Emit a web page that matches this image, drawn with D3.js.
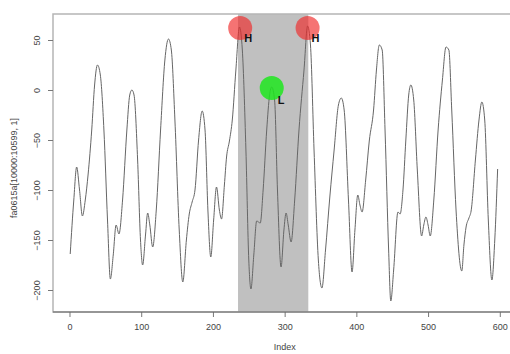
<!DOCTYPE html>
<html>
<head>
<meta charset="utf-8">
<script src="https://cdn.jsdelivr.net/npm/d3@7"></script>
<style>
  body { margin: 0; background: #fff; }
  text { font-family: "Liberation Sans", Arial, sans-serif; }
</style>
</head>
<body>
<svg id="chart"></svg>
<script>
const width = 510;
const height = 354;

// keypoints of the series (index, value)
const idx = [1, 6, 10, 14, 18, 22, 26, 31, 35, 39, 43, 48, 53, 57, 61, 65, 69, 74, 80, 84, 87,
  90, 95, 99, 102, 106, 109, 112, 116, 121, 127, 133, 138, 142, 147, 153, 158, 163, 167, 171, 175,
  180, 185, 189, 193, 197, 201, 205, 209, 212, 216, 219, 223, 227, 232, 237, 241, 246, 250, 253, 257,
  261, 266, 270, 275, 279, 282, 286, 290, 295, 299, 302, 305, 309, 314, 320, 327, 332, 336, 341, 347,
  352, 357, 363, 369, 375, 379, 383, 389, 394, 398, 402, 405, 408, 413, 418, 424, 428, 432, 436,
  440, 445, 448, 452, 458, 461, 465, 469, 473, 476, 480, 485, 491, 494, 497, 500, 503, 508, 514, 520,
  525, 529, 533, 539, 547, 550, 553, 557, 560, 566, 571, 575, 579, 584, 589, 593, 597];
const vals = [-164, -110, -77, -100, -126, -110, -84, -40, 5, 25, 15, -40, -130, -189, -165, -135, -144, -110, -40, -5, 0,
  -5, -70, -150, -175, -145, -123, -135, -157, -120, -40, 30, 51, 40, -30, -140, -192, -150, -124, -112, -100,
  -50, -21, -40, -120, -167, -130, -97, -120, -129, -95, -67, -51, -30, 20, 63, 40, -60, -170, -199, -165,
  -131, -133, -100, -40, -5, 3, -10, -100, -177, -140, -123, -135, -152, -110, -40, 20, 64, 45, -60, -170,
  -198, -160, -107, -60, -15, -8, -20, -110, -182, -140, -105, -115, -122, -90, -51, -20, 20, 45, 40,
  -40, -160, -211, -180, -122, -124, -100, -50, -5, 5, -10, -80, -146, -135, -127, -135, -146, -110, -40, 10,
  43, 40, -20, -120, -181, -155, -137, -128, -121, -70, -30, -12, -30, -130, -190, -150, -79];

// highlighted window and marked points
const windowRange = [235, 333];
const highIdx = [238, 332];
const highVal = [62, 62];
const lowIdx = [282];
const lowVal = [2];

const xTicks = [0, 100, 200, 300, 400, 500, 600];
const yTicks = [-200, -150, -100, -50, 0, 50];

const box = { left: 53, right: 517, top: 14, bottom: 312 };

const svg = d3.select('#chart')
  .attr('width', width)
  .attr('height', height);

const x = d3.scaleLinear().domain([-23, 624]).range([box.left, box.right]);
const y = d3.scaleLinear().domain([-222, 76]).range([box.bottom, box.top]);

// shaded window
svg.append('rect')
  .attr('x', x(windowRange[0]))
  .attr('y', box.top)
  .attr('width', x(windowRange[1]) - x(windowRange[0]))
  .attr('height', box.bottom - box.top)
  .attr('fill', '#c0c0c0');

// series
const points = idx.map((d, i) => [d, vals[i]]);
svg.append('path')
  .datum(points)
  .attr('d', d3.line().x(d => x(d[0])).y(d => y(d[1])).curve(d3.curveMonotoneX))
  .attr('fill', 'none')
  .attr('stroke', '#666')
  .attr('stroke-width', 1);

// plot box
svg.append('rect')
  .attr('x', box.left)
  .attr('y', box.top)
  .attr('width', box.right - box.left)
  .attr('height', box.bottom - box.top)
  .attr('fill', 'none')
  .attr('stroke', '#b5b5b5')
  .attr('stroke-width', 1.5);

// axes
const xAxis = svg.append('g')
  .attr('transform', `translate(0,${box.bottom})`)
  .call(d3.axisBottom(x).tickValues(xTicks).tickSize(5).tickPadding(7).tickSizeOuter(0));
xAxis.select('.domain').remove();
svg.append('line')
  .attr('x1', box.left).attr('x2', box.right)
  .attr('y1', box.bottom).attr('y2', box.bottom)
  .attr('stroke', '#666').attr('stroke-width', 1.2);

const yAxis = svg.append('g')
  .attr('transform', `translate(${box.left},0)`)
  .call(d3.axisLeft(y).tickValues(yTicks).tickSize(5).tickPadding(0));
yAxis.select('.domain').remove();
yAxis.selectAll('.tick text')
  .attr('transform', 'rotate(-90)')
  .attr('x', 0)
  .attr('y', -13)
  .attr('text-anchor', 'middle')
  .attr('dy', 0);

svg.selectAll('.tick line').attr('stroke', '#777');
svg.selectAll('.tick text')
  .attr('fill', '#444')
  .style('font-size', '9px')
  .style('font-family', '"Liberation Sans", Arial, sans-serif');

// axis titles
svg.append('text')
  .attr('x', (x(0) + x(600)) / 2)
  .attr('y', 350)
  .attr('text-anchor', 'middle')
  .attr('fill', '#444')
  .style('font-size', '9px')
  .text('Index');

svg.append('text')
  .attr('transform', 'translate(17,168) rotate(-90)')
  .attr('text-anchor', 'middle')
  .attr('fill', '#444')
  .style('font-size', '9px')
  .text('fa0615a[10000:10599, 1]');

// markers
highIdx.forEach(function (d, i) {
  svg.append('circle')
    .attr('cx', x(d)).attr('cy', y(highVal[i])).attr('r', 12)
    .attr('fill', 'rgba(240, 40, 40, 0.65)');
  svg.append('text')
    .attr('x', x(d) + 4).attr('y', y(highVal[i]) + 14)
    .attr('fill', '#111')
    .style('font-size', '11px').style('font-weight', 'bold')
    .text('H');
});
lowIdx.forEach(function (d, i) {
  svg.append('circle')
    .attr('cx', x(d)).attr('cy', y(lowVal[i])).attr('r', 12)
    .attr('fill', 'rgba(30, 230, 30, 0.85)');
  svg.append('text')
    .attr('x', x(d) + 6).attr('y', y(lowVal[i]) + 16)
    .attr('fill', '#111')
    .style('font-size', '11px').style('font-weight', 'bold')
    .text('L');
});
</script>
</body>
</html>
